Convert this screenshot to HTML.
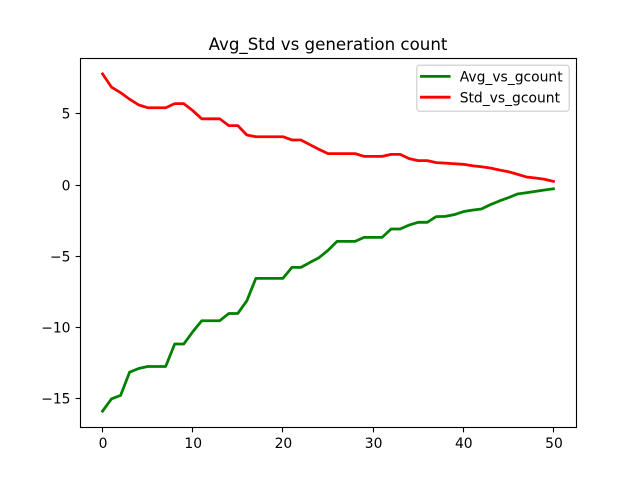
<!DOCTYPE html>
<html>
<head>
<meta charset="utf-8">
<title>Avg_Std vs generation count</title>
<style>
html,body{margin:0;padding:0;background:#fff;}
svg{display:block;font-family:"DejaVu Sans","Liberation Sans",sans-serif;}
</style>
</head>
<body>
<svg id="chart" width="640" height="480" viewBox="0 0 640 480" xmlns="http://www.w3.org/2000/svg">
  <rect x="0" y="0" width="640" height="480" fill="#fff"/>
  <text x="328" y="50" font-size="16.67" text-anchor="middle" fill="#000">Avg_Std vs generation count</text>
  <g id="marks"></g>
  <g id="axes"></g>
  <rect x="80.5" y="58.5" width="496" height="369" fill="none" stroke="#000" stroke-width="1.11"/>
  <g>
    <rect x="416.8" y="65.2" width="152.4" height="46" rx="2.8" fill="#fff" fill-opacity="0.8" stroke="#ccc" stroke-width="1.11"/>
    <line x1="421.4" y1="76.4" x2="449.2" y2="76.4" stroke="#008000" stroke-width="2.78" stroke-linecap="square"/>
    <text x="459.7" y="81.6" font-size="13.89" fill="#000">Avg_vs_gcount</text>
    <line x1="421.4" y1="97.2" x2="449.2" y2="97.2" stroke="#ff0000" stroke-width="2.78" stroke-linecap="square"/>
    <text x="459.7" y="102.4" font-size="13.89" fill="#000">Std_vs_gcount</text>
  </g>
</svg>
<script>
const generations = [0,1,2,3,4,5,6,7,8,9,10,11,12,13,14,15,16,17,18,19,20,21,22,23,24,25,26,27,28,29,30,31,32,33,34,35,36,37,38,39,40,41,42,43,44,45,46,47,48,49,50];
const avgValues = [-15.9,-15.03,-14.8,-13.16,-12.9,-12.76,-12.76,-12.76,-11.18,-11.18,-10.32,-9.54,-9.54,-9.54,-9.03,-9.03,-8.14,-6.56,-6.56,-6.56,-6.56,-5.79,-5.79,-5.44,-5.11,-4.59,-3.96,-3.96,-3.96,-3.68,-3.68,-3.68,-3.09,-3.09,-2.81,-2.62,-2.62,-2.22,-2.2,-2.08,-1.87,-1.76,-1.68,-1.38,-1.12,-0.89,-0.63,-0.54,-0.44,-0.35,-0.26];
const stdValues = [7.82,6.88,6.5,6.04,5.64,5.44,5.44,5.44,5.73,5.73,5.24,4.66,4.66,4.66,4.18,4.18,3.52,3.4,3.4,3.4,3.4,3.17,3.17,2.84,2.51,2.21,2.21,2.21,2.21,2.02,2.02,2.02,2.16,2.16,1.86,1.72,1.72,1.58,1.54,1.5,1.46,1.36,1.29,1.2,1.06,0.94,0.76,0.57,0.5,0.41,0.26];
const xTicks = [0,10,20,30,40,50];
const yTicks = [-15,-10,-5,0,5];

const NS = 'http://www.w3.org/2000/svg';
const plotLeft = 80, plotRight = 576, plotTop = 57.6, plotBottom = 427.2;
const xMin = -2.5, xMax = 52.5, yMin = -17.03, yMax = 8.965;

function xScale(v){ return plotLeft + (v - xMin) / (xMax - xMin) * (plotRight - plotLeft); }
function yScale(v){ return plotBottom - (v - yMin) / (yMax - yMin) * (plotBottom - plotTop); }

function svgEl(tag, parent){
  const el = document.createElementNS(NS, tag);
  parent.appendChild(el);
  return el;
}

function drawSeries(values, color, name){
  const path = svgEl('path', document.getElementById('marks'));
  
  
  const d = values.map(function(v, i){
    return (i ? 'L' : 'M') + xScale(generations[i]).toFixed(2) + ' ' + yScale(v).toFixed(2);
  }).join(' ');
  path.setAttribute('d', d);
  path.setAttribute('fill', 'none');
  path.setAttribute('stroke', color);
  path.setAttribute('stroke-width', '2.78');
  path.setAttribute('stroke-linejoin', 'round');
  path.setAttribute('stroke-linecap', 'square');
}

drawSeries(avgValues, '#008000', 'avg-vs-gcount-line');
drawSeries(stdValues, '#ff0000', 'std-vs-gcount-line');

const axes = document.getElementById('axes');
const tickLen = 4.86;

xTicks.forEach(function(t){
  const px = Math.floor(xScale(t)) + 0.5;
  const tick = svgEl('line', axes);
  
  
  tick.setAttribute('x1', px);
  tick.setAttribute('x2', px);
  tick.setAttribute('y1', 427.5);
  tick.setAttribute('y2', 427.5 + tickLen);
  tick.setAttribute('stroke', '#000');
  tick.setAttribute('stroke-width', '1.11');
  const label = svgEl('text', axes);
  
  
  label.setAttribute('x', xScale(t) + 0.5);
  label.setAttribute('y', 448);
  label.setAttribute('font-size', '13.89');
  label.setAttribute('text-anchor', 'middle');
  label.textContent = String(t);
});

yTicks.forEach(function(t){
  const py = Math.floor(yScale(t)) + 0.5;
  const tick = svgEl('line', axes);
  
  
  tick.setAttribute('x1', 80.5 - tickLen);
  tick.setAttribute('x2', 80.5);
  tick.setAttribute('y1', py);
  tick.setAttribute('y2', py);
  tick.setAttribute('stroke', '#000');
  tick.setAttribute('stroke-width', '1.11');
  const label = svgEl('text', axes);
  
  
  label.setAttribute('x', 70.5);
  label.setAttribute('y', py + 5);
  label.setAttribute('font-size', '13.89');
  label.setAttribute('text-anchor', 'end');
  label.textContent = (t < 0 ? '\u2212' + Math.abs(t) : String(t));
});
</script>
</body>
</html>
